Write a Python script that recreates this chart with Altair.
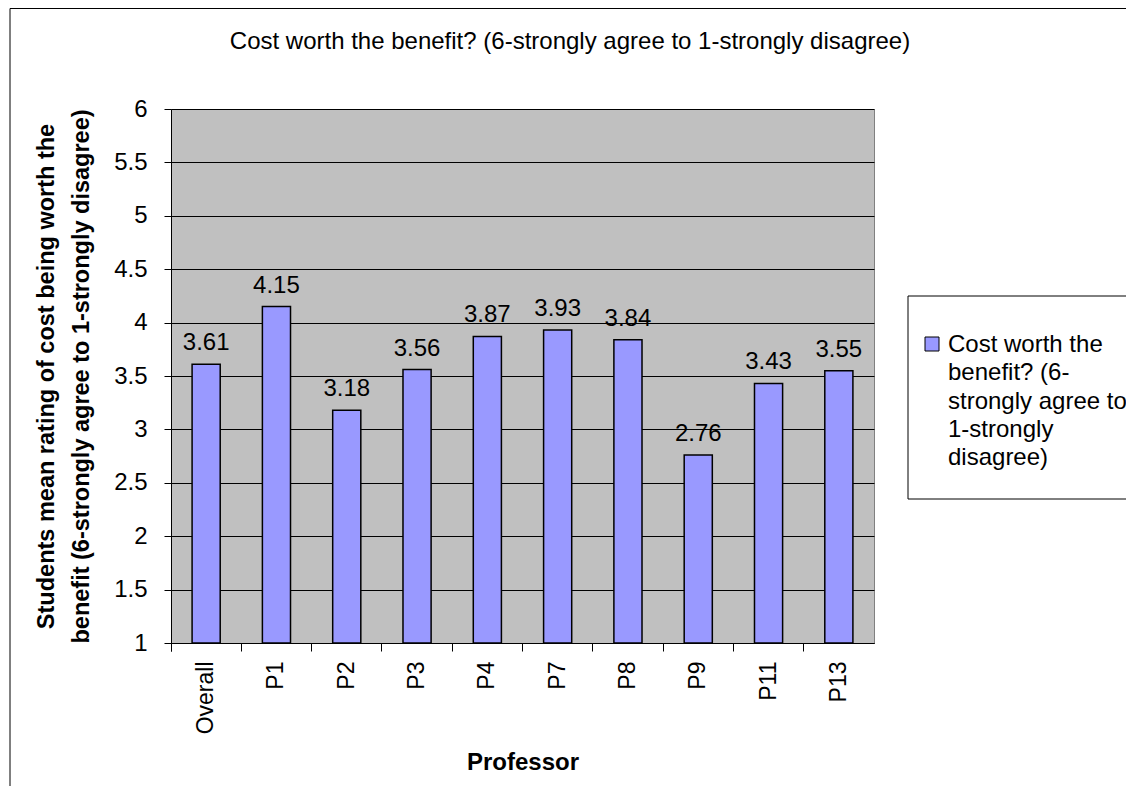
import altair as alt
import pandas as pd

professors = ["Overall", "P1", "P2", "P3", "P4", "P7", "P8", "P9", "P11", "P13"]
ratings = [3.61, 4.15, 3.18, 3.56, 3.87, 3.93, 3.84, 2.76, 3.43, 3.55]
y_ticks = [1, 1.5, 2, 2.5, 3, 3.5, 4, 4.5, 5, 5.5, 6]
series_name = "Cost worth the benefit? (6-strongly agree to 1-strongly disagree)"
legend_lines = ["Cost worth the", "benefit? (6-", "strongly agree to", "1-strongly", "disagree)"]
y_title = ["Students mean rating of cost being worth the",
           "benefit (6-strongly agree to 1-strongly disagree)"]
x_title = "Professor"

BAR = "#9999FF"
FONT = "Liberation Sans"
FS = 24

df = pd.DataFrame({"prof": professors, "rating": ratings})
W, H = 703, 534

x_enc = alt.X("prof:N", sort=professors,
              scale=alt.Scale(paddingInner=0, paddingOuter=0),
              axis=alt.Axis(title=x_title, labelAngle=-90, labelFont=FONT, labelFontSize=23,
                            labelColor="black", labelPadding=10, bandPosition=0, tickExtra=True,
                            ticks=True, tickColor="black", tickSize=8, domainColor="black",
                            titleFont=FONT, titleFontSize=FS, titleFontWeight="bold",
                            titleColor="black", titleX=W / 2, titleY=126,
                            titleBaseline="alphabetic", titleAlign="center", grid=False))
y_enc = alt.Y("rating:Q", scale=alt.Scale(domain=[1, 6], zero=False, nice=False),
              axis=alt.Axis(values=y_ticks, format="~g", title=y_title, labelFont=FONT,
                            labelFontSize=FS, labelColor="black", tickColor="black",
                            tickSize=7, labelPadding=17, domainColor="black",
                            gridColor="black", gridWidth=1, grid=True,
                            titleFont=FONT, titleFontSize=23.5, titleFontWeight="bold",
                            titleColor="black", titleAngle=-90, titleX=-118, titleY=H / 2,
                            titleAlign="center", titleBaseline="alphabetic",
                            titleLineHeight=35))

base = alt.Chart(df)

border = alt.Chart(alt.Data(values=[{}])).mark_rect(
    fill="transparent", stroke="black", strokeWidth=1
).encode(x=alt.value(-161), x2=alt.value(1200), y=alt.value(-100.5), y2=alt.value(900))

bars = base.mark_bar(width=alt.RelativeBandSize(0.4), color=BAR, stroke="black",
                     strokeWidth=1.5).encode(x=x_enc, y=y_enc, y2=alt.datum(1))

labels = base.mark_text(font=FONT, fontSize=FS, color="black", baseline="alphabetic",
                        dy=-14).encode(x=alt.X("prof:N", sort=professors),
                                       y="rating:Q", text=alt.Text("rating:Q", format=".2f"))

title = alt.Chart(alt.Data(values=[{"t": series_name}])).mark_text(
    font=FONT, fontSize=FS, color="black", baseline="alphabetic", align="center"
).encode(x=alt.value(399), y=alt.value(-60), text="t:N")

legend_box = alt.Chart(alt.Data(values=[{}])).mark_rect(
    fill="white", stroke="black", strokeWidth=1
).encode(x=alt.value(737), x2=alt.value(1100), y=alt.value(187), y2=alt.value(390))

legend_sym = alt.Chart(alt.Data(values=[{}])).mark_rect(
    fill=BAR, stroke="black", strokeWidth=1
).encode(x=alt.value(754), x2=alt.value(768), y=alt.value(228), y2=alt.value(242))

legend_txt = alt.Chart(alt.Data(values=[{"t": legend_lines}])).mark_text(
    font=FONT, fontSize=FS, color="black", align="left", baseline="alphabetic",
    lineHeight=28.3
).encode(x=alt.value(777), y=alt.value(243), text="t:N")

chart = alt.layer(border, bars, labels, title, legend_box, legend_sym, legend_txt).properties(
    width=W, height=H,
    autosize=alt.AutoSizeParams(type="none"),
    padding={"left": 163, "top": 101, "right": 252, "bottom": 143},
    background="white",
).configure_view(fill="#C0C0C0", stroke="#808080", strokeWidth=1)

chart.save("out.html", embed_options={"renderer": "svg", "actions": False})
